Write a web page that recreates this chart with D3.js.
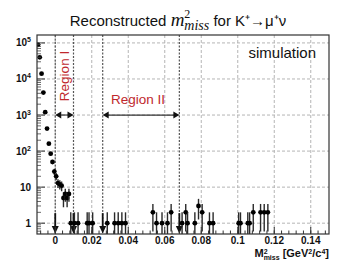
<!DOCTYPE html>
<html>
<head>
<meta charset="utf-8">
<script src="https://cdn.jsdelivr.net/npm/d3@7"></script>
<style>
  body { margin: 0; background: #fff; }
  svg { display: block; font-family: Arial, "Liberation Sans", sans-serif; }
</style>
</head>
<body>
<svg id="chart" width="360" height="277"></svg>
<script>
// bin centres (GeV^2/c^4) and counts
var binX = [-0.0095, -0.0085, -0.0075, -0.0065, -0.0055, -0.0045, -0.0035, -0.0025, -0.0015, -0.0005,
            0.0005, 0.0015, 0.0025, 0.0035, 0.0045, 0.0055, 0.0065, 0.0075,
            0.0085, 0.0105, 0.0125, 0.0175, 0.0185, 0.0205, 0.0285,
            0.0325, 0.0345, 0.0365, 0.0385,
            0.0535, 0.0555, 0.0585, 0.0615, 0.0635,
            0.0695, 0.0715, 0.0725, 0.0765, 0.0785, 0.0805, 0.0845, 0.0865,
            0.1005, 0.1015, 0.1055, 0.1065, 0.1085, 0.1125, 0.1145, 0.1165];
var counts = [88000, 40000, 14000, 4200, 1200, 420, 160, 85, 50, 27,
              20, 13, 12, 11, 5, 6.5, 5, 6.5,
              1, 1, 1, 1, 1, 1, 1,
              1, 1, 1, 1,
              2, 1, 1, 1, 2,
              1, 2, 1, 1, 3, 2, 1, 1,
              1, 1, 1, 1, 2, 2, 2, 2];
var binWidth = 0.001;

var regionEdges = [0, 0.01, 0.026, 0.068];
var xTicks = [0, 0.02, 0.04, 0.06, 0.08, 0.1, 0.12, 0.14];
var yTicks = [1, 10, 100, 1000, 10000, 100000];
var yTickLabels = [["1", ""], ["10", ""], ["10", "2"], ["10", "3"], ["10", "4"], ["10", "5"]];

var svg = d3.select('#chart');
var padding = {t: 35, r: 31, b: 43, l: 37};
var W = +svg.attr('width'), H = +svg.attr('height');
var x0 = padding.l, x1 = W - padding.r, y0 = padding.t, y1 = H - padding.b;

var xScale = d3.scaleLinear().domain([-0.01, 0.15]).range([x0, x1]);
var yScale = d3.scaleLog().domain([Math.pow(10, -0.3), Math.pow(10, 5.22)]).range([y1, y0]);

var red = '#c0282d';

// title
var title = svg.append('text')
    .attr('x', 178).attr('y', 26)
    .attr('text-anchor', 'middle')
    .style('font-size', '15px').style('fill', '#111');
title.append('tspan').text('Reconstructed ');
title.append('tspan').text('m')
    .style('font-family', '"Liberation Serif", "DejaVu Serif", serif')
    .style('font-style', 'italic').style('font-size', '19px');
title.append('tspan').text('2')
    .attr('dy', -8)
    .style('font-family', '"Liberation Serif", "DejaVu Serif", serif')
    .style('font-size', '12px');
title.append('tspan').text('miss')
    .attr('dx', -6).attr('dy', 12)
    .style('font-family', '"Liberation Serif", "DejaVu Serif", serif')
    .style('font-style', 'italic').style('font-size', '14px');
title.append('tspan').text(' for K\u207A\u2192\u03BC\u207A\u03BD')
    .attr('dy', -4);

var defs = svg.append('defs');
defs.append('clipPath').attr('id', 'plotClip')
    .append('rect').attr('x', x0).attr('y', y0).attr('width', x1 - x0).attr('height', y1 - y0);

var plotG = svg.append('g').attr('clip-path', 'url(#plotClip)');

// grid
plotG.selectAll('.vgrid').data(xTicks).enter().append('line')
    .attr('class', 'vgrid')
    .attr('x1', function(d) { return xScale(d); }).attr('x2', function(d) { return xScale(d); })
    .attr('y1', y0).attr('y2', y1)
    .attr('stroke', '#b5b5b5').attr('stroke-width', 1).attr('stroke-dasharray', '3,2');
plotG.selectAll('.hgrid').data(yTicks).enter().append('line')
    .attr('class', 'hgrid')
    .attr('x1', x0).attr('x2', x1)
    .attr('y1', function(d) { return yScale(d); }).attr('y2', function(d) { return yScale(d); })
    .attr('stroke', '#b5b5b5').attr('stroke-width', 1).attr('stroke-dasharray', '3,2');

// region boundaries
plotG.selectAll('.edge').data(regionEdges).enter().append('line')
    .attr('class', 'edge')
    .attr('x1', function(d) { return xScale(d); }).attr('x2', function(d) { return xScale(d); })
    .attr('y1', y0).attr('y2', y1)
    .attr('stroke', '#555').attr('stroke-width', 1.2).attr('stroke-dasharray', '2,1.5');

// down arrows at the edges
var arrowG = plotG.selectAll('.darrow').data(regionEdges).enter().append('g')
    .attr('class', 'darrow')
    .attr('transform', function(d) { return 'translate(' + [xScale(d), 0] + ')'; });
arrowG.append('line')
    .attr('x1', 0).attr('x2', 0).attr('y1', yScale(1.9)).attr('y2', y1 - 5)
    .attr('stroke', '#111').attr('stroke-width', 1.8);
arrowG.append('path')
    .attr('d', 'M-3.5,' + (y1 - 8) + 'L3.5,' + (y1 - 8) + 'L0,' + (y1 - 0.5) + 'Z')
    .attr('fill', '#111');

// error bars
var pts = binX.map(function(d, i) { return {x: d, n: counts[i]}; });
var barG = plotG.selectAll('.pt').data(pts).enter().append('g').attr('class', 'pt');
barG.append('line')
    .attr('x1', function(d) { return xScale(d.x); }).attr('x2', function(d) { return xScale(d.x); })
    .attr('y1', function(d) { var lo = d.n - Math.sqrt(d.n); return lo > 0 ? yScale(lo) : y1 + 5; })
    .attr('y2', function(d) { return yScale(d.n + Math.sqrt(d.n)); })
    .attr('stroke', '#2a2a2a').attr('stroke-width', 1.4);
barG.append('line')
    .attr('x1', function(d) { return xScale(d.x - binWidth / 2); })
    .attr('x2', function(d) { return xScale(d.x + binWidth / 2); })
    .attr('y1', function(d) { return yScale(d.n); }).attr('y2', function(d) { return yScale(d.n); })
    .attr('stroke', '#2a2a2a').attr('stroke-width', 1.4);
barG.append('circle')
    .attr('cx', function(d) { return xScale(d.x); })
    .attr('cy', function(d) { return yScale(d.n); })
    .attr('r', 2.4).attr('fill', '#000');

// double arrows for the regions
var arrowY = yScale(1000);
function hArrow(a, b) {
    var xa = xScale(a), xb = xScale(b);
    var g = svg.append('g');
    g.append('line').attr('x1', xa + 5).attr('x2', xb - 5).attr('y1', arrowY).attr('y2', arrowY)
        .attr('stroke', '#333').attr('stroke-width', 1.2);
    g.append('path').attr('d', 'M' + xa + ',' + arrowY + 'l6,-3.5l0,7Z').attr('fill', '#111');
    g.append('path').attr('d', 'M' + xb + ',' + arrowY + 'l-6,-3.5l0,7Z').attr('fill', '#111');
}
hArrow(regionEdges[0], regionEdges[1]);
hArrow(regionEdges[2], regionEdges[3]);

svg.append('text')
    .attr('transform', 'translate(' + [(xScale(regionEdges[0]) + xScale(regionEdges[1])) / 2 + 5, 76] + ') rotate(-90)')
    .attr('text-anchor', 'middle')
    .style('font-size', '13.5px').style('fill', red)
    .text('Region I');
svg.append('text')
    .attr('x', 138).attr('y', 104)
    .attr('text-anchor', 'middle')
    .style('font-size', '13.5px').style('fill', red)
    .text('Region II');

svg.append('text')
    .attr('x', 316).attr('y', 58)
    .attr('text-anchor', 'end')
    .style('font-size', '15px').style('fill', '#111')
    .text('simulation');

// ticks (drawn inside the frame)
var xMinor = d3.range(-0.008, 0.1501, 0.004);
svg.selectAll('.xminor').data(xMinor).enter().append('line')
    .attr('x1', function(d) { return xScale(d); }).attr('x2', function(d) { return xScale(d); })
    .attr('y1', y1).attr('y2', y1 - 3.5)
    .attr('stroke', '#333').attr('stroke-width', 1);
svg.selectAll('.xmajor').data(xTicks).enter().append('line')
    .attr('x1', function(d) { return xScale(d); }).attr('x2', function(d) { return xScale(d); })
    .attr('y1', y1).attr('y2', y1 - 7)
    .attr('stroke', '#333').attr('stroke-width', 1);

var yMinor = [];
yTicks.concat([0.1]).forEach(function(t) {
    for (var k = 2; k <= 9; k++) {
        var v = t * k;
        if (v > yScale.domain()[0] && v < yScale.domain()[1]) yMinor.push(v);
    }
});
svg.selectAll('.yminor').data(yMinor).enter().append('line')
    .attr('x1', x0).attr('x2', x0 + 4)
    .attr('y1', function(d) { return yScale(d); }).attr('y2', function(d) { return yScale(d); })
    .attr('stroke', '#444').attr('stroke-width', 0.8);
svg.selectAll('.ymajor').data(yTicks).enter().append('line')
    .attr('x1', x0).attr('x2', x0 + 8)
    .attr('y1', function(d) { return yScale(d); }).attr('y2', function(d) { return yScale(d); })
    .attr('stroke', '#333').attr('stroke-width', 1);

// frame
svg.append('rect')
    .attr('x', x0).attr('y', y0).attr('width', x1 - x0).attr('height', y1 - y0)
    .attr('fill', 'none').attr('stroke', '#333').attr('stroke-width', 1.2);

// tick labels
svg.selectAll('.xlab').data(xTicks).enter().append('text')
    .attr('x', function(d) { return xScale(d); }).attr('y', y1 + 10)
    .attr('text-anchor', 'middle')
    .style('font-size', '10px').style('font-weight', 'bold').style('fill', '#111')
    .text(function(d) { return d === 0 ? '0' : d3.format('')(d); });

var yLab = svg.selectAll('.ylab').data(yTicks).enter().append('text')
    .attr('x', 31).attr('y', function(d) { return yScale(d) + 3.5; })
    .attr('text-anchor', 'end')
    .style('font-size', '10px').style('font-weight', 'bold').style('fill', '#111');
yLab.append('tspan').text(function(d, i) { return yTickLabels[i][0]; });
yLab.append('tspan')
    .attr('dy', -4).style('font-size', '7px')
    .text(function(d, i) { return yTickLabels[i][1]; });

// x axis title
var xt = svg.append('text')
    .attr('x', x1).attr('y', 257)
    .attr('text-anchor', 'end')
    .style('font-size', '11px').style('font-weight', 'bold').style('fill', '#111');
xt.append('tspan').text('M');
xt.append('tspan').text('2').attr('dy', -3.5).style('font-size', '7px');
xt.append('tspan').text('miss').attr('dx', -4).attr('dy', 6).style('font-size', '7px');
xt.append('tspan').text(' [GeV').attr('dy', -2.5);
xt.append('tspan').text('2').attr('dy', -3.5).style('font-size', '7px');
xt.append('tspan').text('/c').attr('dy', 3.5);
xt.append('tspan').text('4').attr('dy', -3.5).style('font-size', '7px');
xt.append('tspan').text(']').attr('dy', 3.5);
</script>
</body>
</html>
